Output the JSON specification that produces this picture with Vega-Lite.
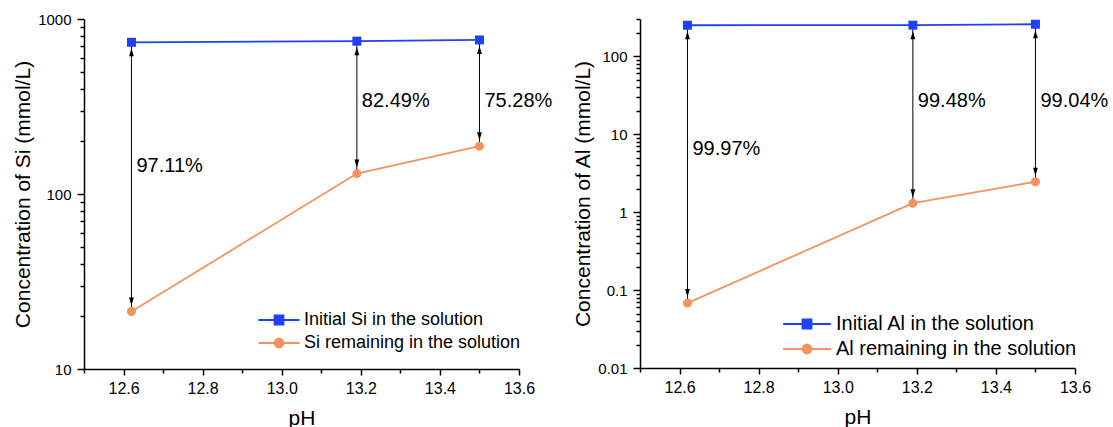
{
  "$schema": "https://vega.github.io/schema/vega-lite/v6.json",
  "padding": {"left": 12, "top": 12, "right": 0, "bottom": 0},
  "bounds": "flush",
  "spacing": 121,
  "config": {
    "view": {"stroke": null},
    "font": "Liberation Sans",
    "axis": {
      "grid": false,
      "domainColor": "black",
      "domainWidth": 1.5,
      "tickColor": "black",
      "tickWidth": 1.5,
      "labelColor": "black",
      "labelFont": "Liberation Sans",
      "titleColor": "black",
      "titleFont": "Liberation Sans",
      "titleFontWeight": "normal",
      "labelOverlap": false,
      "labelFlush": false
    },
    "legend": {"labelFont": "Liberation Sans", "labelColor": "black", "labelLimit": 400}
  },
  "resolve": {"scale": {"color": "independent"}, "legend": {"color": "independent"}},
  "hconcat": [
    {
      "width": 435,
      "height": 350,
      "data": {
        "values": [
          {"pH": 12.62, "Initial Si in the solution": 736, "Si remaining in the solution": 21.3, "removal": "97.11%", "labelY": 145},
          {"pH": 13.19, "Initial Si in the solution": 747, "Si remaining in the solution": 130.8, "removal": "82.49%", "labelY": 341},
          {"pH": 13.5, "Initial Si in the solution": 759, "Si remaining in the solution": 187.6, "removal": "75.28%", "labelY": 341}
        ]
      },
      "encoding": {
        "x": {
          "field": "pH", "type": "quantitative",
          "scale": {"domain": [12.5, 13.6], "nice": false, "zero": false},
          "axis": {
            "title": "pH", "titleFontSize": 21, "titlePadding": 11,
            "values": [12.5, 12.6, 12.7, 12.8, 12.9, 13.0, 13.1, 13.2, 13.3, 13.4, 13.5, 13.6],
            "format": ".1f",
            "labelExpr": "indexof([12.6, 12.8, 13, 13.2, 13.4, 13.6], datum.value) >= 0 ? datum.label : ''",
            "tickSize": {"condition": {"test": "indexof([12.6, 12.8, 13, 13.2, 13.4, 13.6], datum.value) >= 0", "value": 6}, "value": 4},
            "labelFontSize": 16, "labelPadding": 5
          }
        }
      },
      "layer": [
        {
          "mark": {"type": "rule", "color": "black", "strokeWidth": 1},
          "encoding": {
            "y": {
              "field": "Initial Si in the solution", "type": "quantitative",
              "scale": {"type": "log", "domain": [10, 1000], "nice": false},
              "axis": {
                "title": "Concentration of Si (mmol/L)", "titleFontSize": 21, "titlePadding": 4,
                "values": [10, 20, 30, 40, 50, 60, 70, 80, 90, 100, 200, 300, 400, 500, 600, 700, 800, 900, 1000],
                "format": "~g",
                "labelExpr": "indexof([10, 100, 1000], datum.value) >= 0 ? datum.label : ''",
                "tickSize": {"condition": {"test": "indexof([10, 100, 1000], datum.value) >= 0", "value": 7}, "value": 4},
                "labelFontSize": 15, "labelPadding": 6
              }
            },
            "y2": {"field": "Si remaining in the solution"}
          }
        },
        {
          "mark": {"type": "point", "shape": "M0,-1L-0.6,1L0.6,1Z", "filled": true, "color": "black", "opacity": 1, "size": 64, "yOffset": 10},
          "encoding": {
            "y": {"field": "Initial Si in the solution", "type": "quantitative", "scale": {"type": "log", "domain": [10, 1000], "nice": false}}
          }
        },
        {
          "mark": {"type": "point", "shape": "M0,1L-0.6,-1L0.6,-1Z", "filled": true, "color": "black", "opacity": 1, "size": 64, "yOffset": -10},
          "encoding": {
            "y": {"field": "Si remaining in the solution", "type": "quantitative", "scale": {"type": "log", "domain": [10, 1000], "nice": false}}
          }
        },
        {
          "mark": {"type": "text", "align": "left", "baseline": "middle", "dx": 5, "fontSize": 20, "color": "black"},
          "encoding": {
            "y": {"field": "labelY", "type": "quantitative", "scale": {"type": "log", "domain": [10, 1000], "nice": false}},
            "text": {"field": "removal"}
          }
        },
        {
          "transform": [{"fold": ["Initial Si in the solution", "Si remaining in the solution"], "as": ["series", "conc"]}],
          "mark": {"type": "line", "strokeWidth": 1.8},
          "encoding": {
            "y": {"field": "conc", "type": "quantitative", "scale": {"type": "log", "domain": [10, 1000], "nice": false}},
            "color": {
              "field": "series", "type": "nominal",
              "scale": {"domain": ["Initial Si in the solution", "Si remaining in the solution"], "range": ["#1e40ff", "#f4935b"]},
              "legend": {
                "title": null, "orient": "none", "legendX": 186, "legendY": 292,
                "labelFontSize": 18, "labelOffset": 16, "rowPadding": 5, "padding": 0,
                "symbolSize": 81,
                "encode": {
                  "symbols": {
                    "update": {
                      "shape": {"signal": "datum.value == 'Initial Si in the solution' ? 'M-4.56,0H4.56M-1,-1H1V1H-1Z' : 'M-4.56,0H4.56M-1,0A1,1,0,1,0,1,0A1,1,0,1,0,-1,0Z'"},
                      "fill": {"signal": "datum.value == 'Initial Si in the solution' ? '#1e40ff' : '#f4935b'"},
                      "stroke": {"signal": "datum.value == 'Initial Si in the solution' ? '#1e40ff' : '#f4935b'"},
                      "strokeWidth": {"value": 1.8},
                      "opacity": {"value": 1}
                    }
                  }
                }
              }
            }
          }
        },
        {
          "transform": [
            {"fold": ["Initial Si in the solution", "Si remaining in the solution"], "as": ["series", "conc"]},
            {"filter": "datum.series == 'Initial Si in the solution'"}
          ],
          "mark": {"type": "point", "shape": "square", "filled": true, "opacity": 1, "size": 81},
          "encoding": {
            "y": {"field": "conc", "type": "quantitative", "scale": {"type": "log", "domain": [10, 1000], "nice": false}},
            "color": {"field": "series", "type": "nominal", "scale": {"domain": ["Initial Si in the solution", "Si remaining in the solution"], "range": ["#1e40ff", "#f4935b"]}}
          }
        },
        {
          "transform": [
            {"fold": ["Initial Si in the solution", "Si remaining in the solution"], "as": ["series", "conc"]},
            {"filter": "datum.series == 'Si remaining in the solution'"}
          ],
          "mark": {"type": "point", "shape": "circle", "filled": true, "opacity": 1, "size": 81},
          "encoding": {
            "y": {"field": "conc", "type": "quantitative", "scale": {"type": "log", "domain": [10, 1000], "nice": false}},
            "color": {"field": "series", "type": "nominal", "scale": {"domain": ["Initial Si in the solution", "Si remaining in the solution"], "range": ["#1e40ff", "#f4935b"]}}
          }
        }
      ]
    },
    {
      "width": 435,
      "height": 349,
      "data": {
        "values": [
          {"pH": 12.62, "Initial Al in the solution": 249.5, "Al remaining in the solution": 0.068, "removal": "99.97%", "labelY": 6.42},
          {"pH": 13.19, "Initial Al in the solution": 250, "Al remaining in the solution": 1.3, "removal": "99.48%", "labelY": 26.7},
          {"pH": 13.5, "Initial Al in the solution": 257, "Al remaining in the solution": 2.45, "removal": "99.04%", "labelY": 26.7}
        ]
      },
      "encoding": {
        "x": {
          "field": "pH", "type": "quantitative",
          "scale": {"domain": [12.5, 13.6], "nice": false, "zero": false},
          "axis": {
            "title": "pH", "titleFontSize": 21, "titlePadding": 11,
            "values": [12.5, 12.6, 12.7, 12.8, 12.9, 13.0, 13.1, 13.2, 13.3, 13.4, 13.5, 13.6],
            "format": ".1f",
            "labelExpr": "indexof([12.6, 12.8, 13, 13.2, 13.4, 13.6], datum.value) >= 0 ? datum.label : ''",
            "tickSize": {"condition": {"test": "indexof([12.6, 12.8, 13, 13.2, 13.4, 13.6], datum.value) >= 0", "value": 6}, "value": 4},
            "labelFontSize": 16, "labelPadding": 5
          }
        }
      },
      "layer": [
        {
          "mark": {"type": "rule", "color": "black", "strokeWidth": 1},
          "encoding": {
            "y": {
              "field": "Initial Al in the solution", "type": "quantitative",
              "scale": {"type": "log", "domain": [0.01, 300], "nice": false},
              "axis": {
                "title": "Concentration of Al (mmol/L)", "titleFontSize": 21, "titlePadding": 4,
                "values": [0.01, 0.02, 0.03, 0.04, 0.05, 0.06, 0.07, 0.08, 0.09, 0.1, 0.2, 0.3, 0.4, 0.5, 0.6, 0.7, 0.8, 0.9, 1, 2, 3, 4, 5, 6, 7, 8, 9, 10, 20, 30, 40, 50, 60, 70, 80, 90, 100, 200, 300],
                "format": "~g",
                "labelExpr": "indexof([0.01, 0.1, 1, 10, 100], datum.value) >= 0 ? datum.label : ''",
                "tickSize": {"condition": {"test": "indexof([0.01, 0.1, 1, 10, 100], datum.value) >= 0", "value": 7}, "value": 4},
                "labelFontSize": 15, "labelPadding": 6
              }
            },
            "y2": {"field": "Al remaining in the solution"}
          }
        },
        {
          "mark": {"type": "point", "shape": "M0,-1L-0.6,1L0.6,1Z", "filled": true, "color": "black", "opacity": 1, "size": 64, "yOffset": 10},
          "encoding": {
            "y": {"field": "Initial Al in the solution", "type": "quantitative", "scale": {"type": "log", "domain": [0.01, 300], "nice": false}}
          }
        },
        {
          "mark": {"type": "point", "shape": "M0,1L-0.6,-1L0.6,-1Z", "filled": true, "color": "black", "opacity": 1, "size": 64, "yOffset": -10},
          "encoding": {
            "y": {"field": "Al remaining in the solution", "type": "quantitative", "scale": {"type": "log", "domain": [0.01, 300], "nice": false}}
          }
        },
        {
          "mark": {"type": "text", "align": "left", "baseline": "middle", "dx": 5, "fontSize": 20, "color": "black"},
          "encoding": {
            "y": {"field": "labelY", "type": "quantitative", "scale": {"type": "log", "domain": [0.01, 300], "nice": false}},
            "text": {"field": "removal"}
          }
        },
        {
          "transform": [{"fold": ["Initial Al in the solution", "Al remaining in the solution"], "as": ["series", "conc"]}],
          "mark": {"type": "line", "strokeWidth": 1.8},
          "encoding": {
            "y": {"field": "conc", "type": "quantitative", "scale": {"type": "log", "domain": [0.01, 300], "nice": false}},
            "color": {
              "field": "series", "type": "nominal",
              "scale": {"domain": ["Initial Al in the solution", "Al remaining in the solution"], "range": ["#1e40ff", "#f4935b"]},
              "legend": {
                "title": null, "orient": "none", "legendX": 157, "legendY": 295,
                "labelFontSize": 20, "labelOffset": 19, "rowPadding": 5, "padding": 0,
                "symbolSize": 81,
                "encode": {
                  "symbols": {
                    "update": {
                      "shape": {"signal": "datum.value == 'Initial Al in the solution' ? 'M-5.3,0H5.3M-1,-1H1V1H-1Z' : 'M-5.3,0H5.3M-1,0A1,1,0,1,0,1,0A1,1,0,1,0,-1,0Z'"},
                      "fill": {"signal": "datum.value == 'Initial Al in the solution' ? '#1e40ff' : '#f4935b'"},
                      "stroke": {"signal": "datum.value == 'Initial Al in the solution' ? '#1e40ff' : '#f4935b'"},
                      "strokeWidth": {"value": 1.8},
                      "opacity": {"value": 1}
                    }
                  }
                }
              }
            }
          }
        },
        {
          "transform": [
            {"fold": ["Initial Al in the solution", "Al remaining in the solution"], "as": ["series", "conc"]},
            {"filter": "datum.series == 'Initial Al in the solution'"}
          ],
          "mark": {"type": "point", "shape": "square", "filled": true, "opacity": 1, "size": 81},
          "encoding": {
            "y": {"field": "conc", "type": "quantitative", "scale": {"type": "log", "domain": [0.01, 300], "nice": false}},
            "color": {"field": "series", "type": "nominal", "scale": {"domain": ["Initial Al in the solution", "Al remaining in the solution"], "range": ["#1e40ff", "#f4935b"]}}
          }
        },
        {
          "transform": [
            {"fold": ["Initial Al in the solution", "Al remaining in the solution"], "as": ["series", "conc"]},
            {"filter": "datum.series == 'Al remaining in the solution'"}
          ],
          "mark": {"type": "point", "shape": "circle", "filled": true, "opacity": 1, "size": 81},
          "encoding": {
            "y": {"field": "conc", "type": "quantitative", "scale": {"type": "log", "domain": [0.01, 300], "nice": false}},
            "color": {"field": "series", "type": "nominal", "scale": {"domain": ["Initial Al in the solution", "Al remaining in the solution"], "range": ["#1e40ff", "#f4935b"]}}
          }
        }
      ]
    }
  ]
}
